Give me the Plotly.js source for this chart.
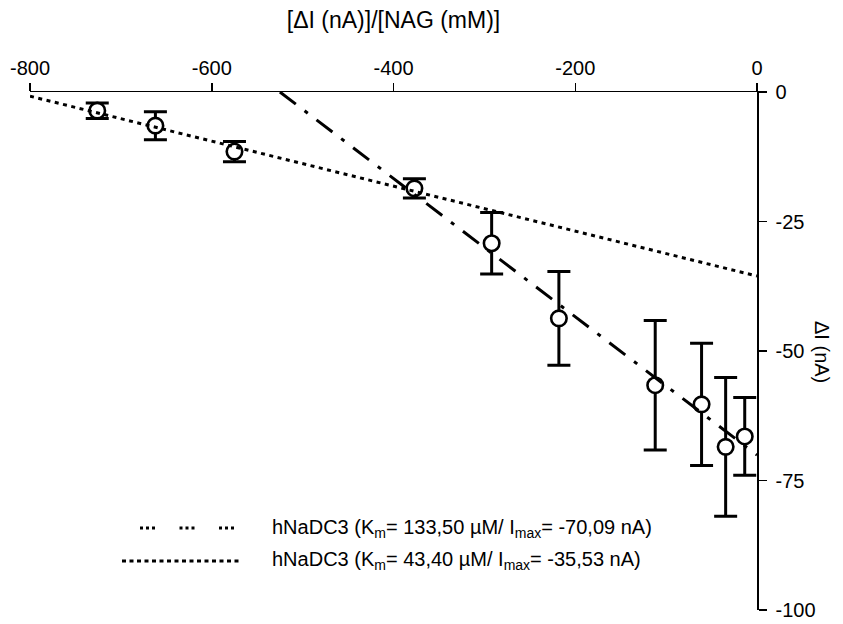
<!DOCTYPE html>
<html>
<head>
<meta charset="utf-8">
<script src="https://cdn.plot.ly/plotly-3.0.1.min.js"></script>
<style>html,body{margin:0;padding:0;background:#fff;}#chart{width:843px;height:624px;}</style>
</head>
<body>
<div id="chart"></div>
<script>
// Data
const ratioX = [-726, -662, -575, -377, -292, -218, -112, -61, -34.5, -13.5];   // ΔI/[NAG] (nA/mM)
const deltaI = [-3.6, -6.5, -11.5, -18.6, -29.2, -43.7, -56.6, -60.3, -68.5, -66.5]; // ΔI (nA)
const errI   = [1.5, 2.7, 1.95, 1.87, 5.95, 9.07, 12.5, 11.8, 13.4, 7.5];

const fit1X = [-525, 0];
const fit1Y = [0, -70.09];
const fit2X = [-800, 0];
const fit2Y = [-0.81, -35.53];

const xTicks = [-800, -600, -400, -200, 0];
const yTicks = [0, -25, -50, -75, -100];

const legendTexts = [
  'hNaDC3 (K<sub>m</sub>= 133,50 µM/ I<sub>max</sub>= -70,09 nA)',
  'hNaDC3 (K<sub>m</sub>= 43,40 µM/ I<sub>max</sub>= -35,53 nA)'
];

const W = 843, H = 624;
const M = {l: 30, r: 86, t: 92, b: 14};
const PW = W - M.l - M.r, PH = H - M.t - M.b;
const px = x => (x - M.l) / PW;
const py = y => (H - M.b - y) / PH;

const FONT = 'Liberation Sans, Arial, Helvetica, sans-serif';

const traces = [
  {
    x: ratioX, y: deltaI, type: 'scatter', mode: 'markers',
    marker: {symbol: 'circle', size: 15.5, color: 'white', line: {color: 'black', width: 2.6}},
    error_y: {type: 'data', array: errI, visible: true, color: 'black', thickness: 3, width: 11.5},
    showlegend: false, cliponaxis: false
  },
  {
    x: fit1X, y: fit1Y, type: 'scatter', mode: 'lines',
    line: {color: 'black', width: 3, dash: '20px,11px,4px,11px'},
    showlegend: false
  },
  {
    x: fit2X, y: fit2Y, type: 'scatter', mode: 'lines',
    line: {color: 'black', width: 3, dash: '4px,4.5px'},
    showlegend: false
  }
];

const shapes = [
  // y-axis extension above 0
  {type: 'line', xref: 'paper', yref: 'paper', x0: 1, x1: 1, y0: 1, y1: py(84), line: {color: 'black', width: 1.5}},
  // legend samples
  {type: 'line', xref: 'paper', yref: 'paper', x0: px(140), x1: px(238), y0: py(528), y1: py(528),
   line: {color: 'black', width: 3, dash: '3px,3px,3px,3px,3px,24.5px'}},
  {type: 'line', xref: 'paper', yref: 'paper', x0: px(122), x1: px(242), y0: py(561), y1: py(561),
   line: {color: 'black', width: 3, dash: '4px,3.5px'}}
];

const annotations = [
  {text: 'ΔI (nA)', xref: 'paper', yref: 'paper', x: px(822), y: py(352), textangle: 90,
   showarrow: false, font: {family: FONT, size: 20, color: 'black'}, xanchor: 'center', yanchor: 'middle'},
  {text: legendTexts[0], xref: 'paper', yref: 'paper', x: px(270), y: py(528), xanchor: 'left', yanchor: 'middle',
   showarrow: false, font: {family: FONT, size: 20, color: 'black'}},
  {text: legendTexts[1], xref: 'paper', yref: 'paper', x: px(270), y: py(560), xanchor: 'left', yanchor: 'middle',
   showarrow: false, font: {family: FONT, size: 20, color: 'black'}}
];

const layout = {
  width: W, height: H,
  margin: M,
  paper_bgcolor: 'white', plot_bgcolor: 'white',
  showlegend: false,
  font: {family: FONT, color: 'black'},
  title: {text: '[ΔI (nA)]/[NAG (mM)]', xref: 'paper', x: 0.5, xanchor: 'center',
          yref: 'container', y: 1 - 20 / H, yanchor: 'middle', font: {family: FONT, size: 23, color: 'black'}},
  xaxis: {
    range: [-800, 0], side: 'top', showline: true, linecolor: 'black', linewidth: 1.5,
    ticks: 'outside', ticklen: 8, tickwidth: 1.5, tickcolor: 'black',
    tickmode: 'array', tickvals: xTicks, ticktext: xTicks.map(String),
    tickfont: {family: FONT, size: 20, color: 'black'},
    showgrid: false, zeroline: false, fixedrange: true
  },
  yaxis: {
    range: [-100, 0], side: 'right', showline: true, linecolor: 'black', linewidth: 1.5,
    ticks: 'outside', ticklen: 8, tickwidth: 1.5, tickcolor: 'black',
    tickmode: 'array', tickvals: yTicks, ticktext: yTicks.map(String),
    tickfont: {family: FONT, size: 20, color: 'black'}, ticklabelstandoff: 5,
    showgrid: false, zeroline: false, fixedrange: true
  },
  shapes: shapes,
  annotations: annotations
};

Plotly.newPlot('chart', traces, layout, {staticPlot: true, displayModeBar: false});
</script>
</body>
</html>
